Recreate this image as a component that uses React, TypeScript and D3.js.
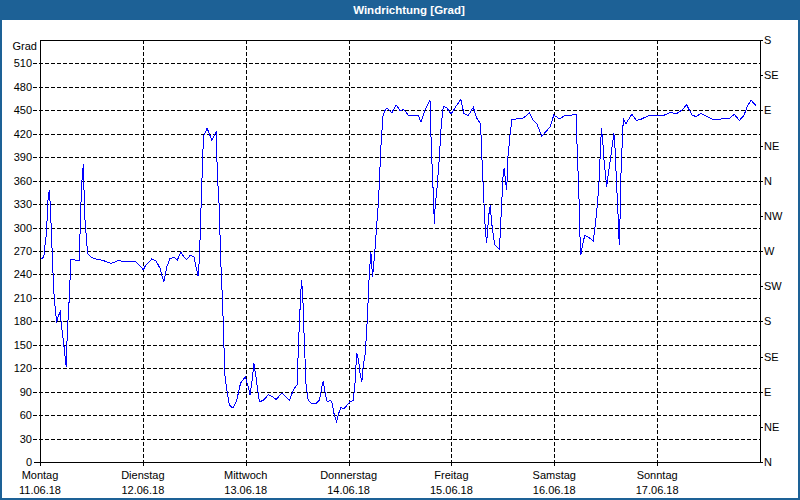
import React from "react"
import * as d3 from "d3"

// hours since Montag 11.06.18 00:00, and wind direction in degrees
const hours = [
  0.2, 0.9, 1.0, 1.4, 1.65, 1.9, 2.2, 2.35, 2.6, 3.0, 3.3, 3.9, 4.2, 4.7, 4.9, 5.4, 5.7, 6.1, 6.2, 6.5, 6.8,
  7.2, 9.2, 9.45, 9.8, 10.1, 10.45, 10.9, 11.1, 11.9, 12.4, 13.5, 14.7, 15.6, 16.6, 17.5, 18.4, 19.6, 21.0, 22.4,
  23.3, 24.1, 24.7, 25.7, 26.1, 27.1, 28.0, 28.9, 29.6, 30.3, 31.3, 32.0, 32.9, 33.6, 34.2, 35.0, 35.9,
  36.4, 36.9, 37.2, 37.7, 38.0, 38.1, 39.0, 40.1, 41.1, 41.4, 41.8, 42.2, 42.5, 42.8, 43.1, 43.6, 44.2,
  45.0, 45.9, 46.8, 47.9, 48.6, 49.0, 49.5, 49.9, 50.4, 50.9, 51.2, 52.1, 53.3, 54.1, 55.1, 56.4, 56.9,
  58.2, 59.1, 60.0, 60.3, 60.7, 61.0, 61.3, 61.6, 62.1, 62.6, 63.4, 64.4, 65.2, 65.8, 66.1, 66.6, 67.0,
  67.7, 68.1, 68.6, 69.2, 69.8, 70.2, 70.9, 71.7, 72.3, 73.1, 73.5, 73.9, 74.3, 74.7, 75.1, 75.4, 75.9,
  76.4, 76.8, 77.2, 77.6, 78.1, 78.6, 79.0, 79.5, 80.0, 80.5, 81.0, 82.1, 83.1, 84.0, 84.9, 85.9, 87.1,
  88.3, 88.9, 89.8, 91.0, 91.3, 91.6, 91.9, 92.0, 92.2, 92.6, 92.9, 93.2, 93.6, 94.1, 95.0, 95.9, 96.8,
  98.2, 98.9, 99.9, 101.1, 101.9, 102.8, 103.1, 103.6, 103.9, 104.2, 104.5, 104.8, 105.1, 105.3, 105.6,
  106.1, 106.7, 107.2, 107.5, 107.8, 108.0, 108.3, 108.6, 108.9, 109.2, 109.7, 110.1, 111.2, 112.4,
  113.2, 114.2, 115.0, 115.9, 117.1, 118.1, 119.0, 119.9, 121.2, 122.7, 124.1, 125.1, 125.2, 125.5,
  125.8, 126.0, 126.2, 126.5, 127.1, 127.9, 129.1, 129.6, 130.0, 130.4, 130.7, 131.0, 131.3, 131.6,
  132.0, 132.2, 132.6, 133.2, 133.6, 133.9, 134.2, 134.6, 134.9, 135.0, 135.2, 135.3, 135.6, 136.0,
  136.1, 136.7, 137.3, 138.1, 139.2, 140.4, 141.9, 143.5, 145.3, 147.0, 148.6, 149.7, 150.9, 152.1,
  153.1, 154.2, 155.6, 157.1, 159.1, 160.9, 162.0, 163.2, 164.3, 165.0, 165.9, 167.2
]

const degrees = [
  260, 262, 271, 288, 310, 339, 348, 333, 302, 246, 211, 178, 186, 192, 180, 158, 143, 122, 143, 178, 207,
  259, 258, 318, 361, 381, 314, 282, 267, 262, 261, 259, 258, 256, 254, 256, 258, 256, 257, 256,
  251, 246, 252, 257, 260, 257, 248, 230, 250, 260, 262, 258, 269, 262, 259, 264, 263,
  250, 238, 260, 348, 391, 416, 427, 412, 422, 365, 329, 254, 216, 173, 113, 92, 73,
  69, 79, 101, 109, 96, 86, 105, 126, 109, 88, 77, 79, 86, 84, 80, 88, 86,
  79, 92, 99, 150, 199, 233, 216, 165, 96, 79, 75, 75, 79, 97, 103, 86, 77,
  79, 77, 62, 52, 64, 70, 68, 73, 77, 79, 101, 139, 131, 113, 103, 122, 139,
  186, 237, 269, 237, 267, 305, 335, 399, 442, 450, 453, 447, 457, 450, 451, 444, 443,
  443, 435, 450, 463, 403, 365, 325, 305, 327, 348, 369, 391, 429, 455, 453, 445, 453,
  464, 446, 443, 454, 440, 433, 391, 331, 297, 280, 301, 320, 329, 310, 297,
  278, 275, 272, 305, 339, 363, 376, 361, 348, 391, 420, 438, 439, 439,
  442, 447, 438, 433, 417, 423, 429, 444, 439, 444, 444, 445, 423, 378,
  331, 288, 265, 275, 290, 288, 283, 305, 327, 354, 391, 427, 412, 386,
  365, 352, 369, 391, 408, 421, 399, 348, 314, 293, 278, 301, 378, 425,
  439, 433, 438, 445, 437, 439, 443, 443, 443, 447, 446, 450, 457, 444,
  442, 446, 442, 438, 439, 440, 445, 437, 444, 455, 463, 455
]

const gradTicks = [0, 30, 60, 90, 120, 150, 180, 210, 240, 270, 300, 330, 360, 390, 420, 450, 480, 510]
const compassLabels = ["N", "NE", "E", "SE", "S", "SW", "W", "NW", "N", "NE", "E", "SE", "S"]
const compassValues = [0, 45, 90, 135, 180, 225, 270, 315, 360, 405, 450, 495, 540]
const dayNames = ["Montag", "Dienstag", "Mittwoch", "Donnerstag", "Freitag", "Samstag", "Sonntag"]
const dayDates = ["11.06.18", "12.06.18", "13.06.18", "14.06.18", "15.06.18", "16.06.18", "17.06.18"]

const W = 800
const H = 500
const plot = { left: 40, right: 760, top: 40, bottom: 462 }
const frameBlue = "#1d6196"
const font = "'Liberation Sans', Arial, sans-serif"

export default function App() {
  const x = d3.scaleLinear().domain([0, 168]).range([plot.left, plot.right])
  const y = d3.scaleLinear().domain([0, 540]).range([plot.bottom, plot.top])

  const line = d3
    .line<number>()
    .x((_, i) => x(hours[i]))
    .y(d => y(d))

  const px = (v: number) => Math.round(v) + 0.5

  return (
    <div style={{ position: "absolute", left: 0, top: 0 }}>
      <svg width={W} height={H} style={{ display: "block", fontFamily: font }}>
        <rect x={0} y={0} width={W} height={H} fill={frameBlue} />
        <rect x={2} y={20} width={W - 4} height={H - 22} fill="#ffffff" />
        <text x={409} y={14} textAnchor="middle" fill="#ffffff" fontSize={11.5} fontWeight="bold">
          Windrichtung [Grad]
        </text>

        {/* horizontal grid */}
        {gradTicks.map(t => (
          <g key={"g" + t}>
            {t > 0 && (
              <line
                x1={33}
                x2={plot.right}
                y1={px(y(t))}
                y2={px(y(t))}
                stroke="#000"
                strokeDasharray="4,2"
                shapeRendering="crispEdges"
              />
            )}
            {t === 0 && (
              <line x1={34} x2={plot.left} y1={px(y(t))} y2={px(y(t))} stroke="#000" shapeRendering="crispEdges" />
            )}
            <text x={32} y={y(t) + 4} textAnchor="end" fontSize={11} fill="#000">
              {t}
            </text>
          </g>
        ))}
        <text x={37} y={50} textAnchor="end" fontSize={11} fill="#000">
          Grad
        </text>

        {/* vertical day grid */}
        {dayNames.map((d, i) => (
          <g key={d}>
            {i > 0 && (
              <line
                x1={px(x(i * 24))}
                x2={px(x(i * 24))}
                y1={plot.top}
                y2={plot.bottom}
                stroke="#000"
                strokeDasharray="4,2"
                shapeRendering="crispEdges"
              />
            )}
            <line
              x1={px(x(i * 24))}
              x2={px(x(i * 24))}
              y1={plot.bottom}
              y2={plot.bottom + 4}
              stroke="#000"
              shapeRendering="crispEdges"
            />
            <text x={x(i * 24)} y={479} textAnchor="middle" fontSize={11} fill="#000">
              {d}
            </text>
            <text x={x(i * 24)} y={494} textAnchor="middle" fontSize={11} fill="#000">
              {dayDates[i]}
            </text>
          </g>
        ))}

        {/* right compass axis */}
        {compassValues.map((v, i) => (
          <g key={"c" + i}>
            <line
              x1={plot.right}
              x2={plot.right + 3}
              y1={px(y(v))}
              y2={px(y(v))}
              stroke="#000"
              shapeRendering="crispEdges"
            />
            <text x={764} y={y(v) + 4} fontSize={11} fill="#000">
              {compassLabels[i]}
            </text>
          </g>
        ))}

        {/* plot frame */}
        <rect
          x={px(plot.left)}
          y={px(plot.top)}
          width={plot.right - plot.left}
          height={plot.bottom - plot.top}
          fill="none"
          stroke="#000"
          shapeRendering="crispEdges"
        />

        <path d={line(degrees) ?? ""} fill="none" stroke="#0000ff" strokeWidth={1} shapeRendering="crispEdges" />
      </svg>
    </div>
  )
}
